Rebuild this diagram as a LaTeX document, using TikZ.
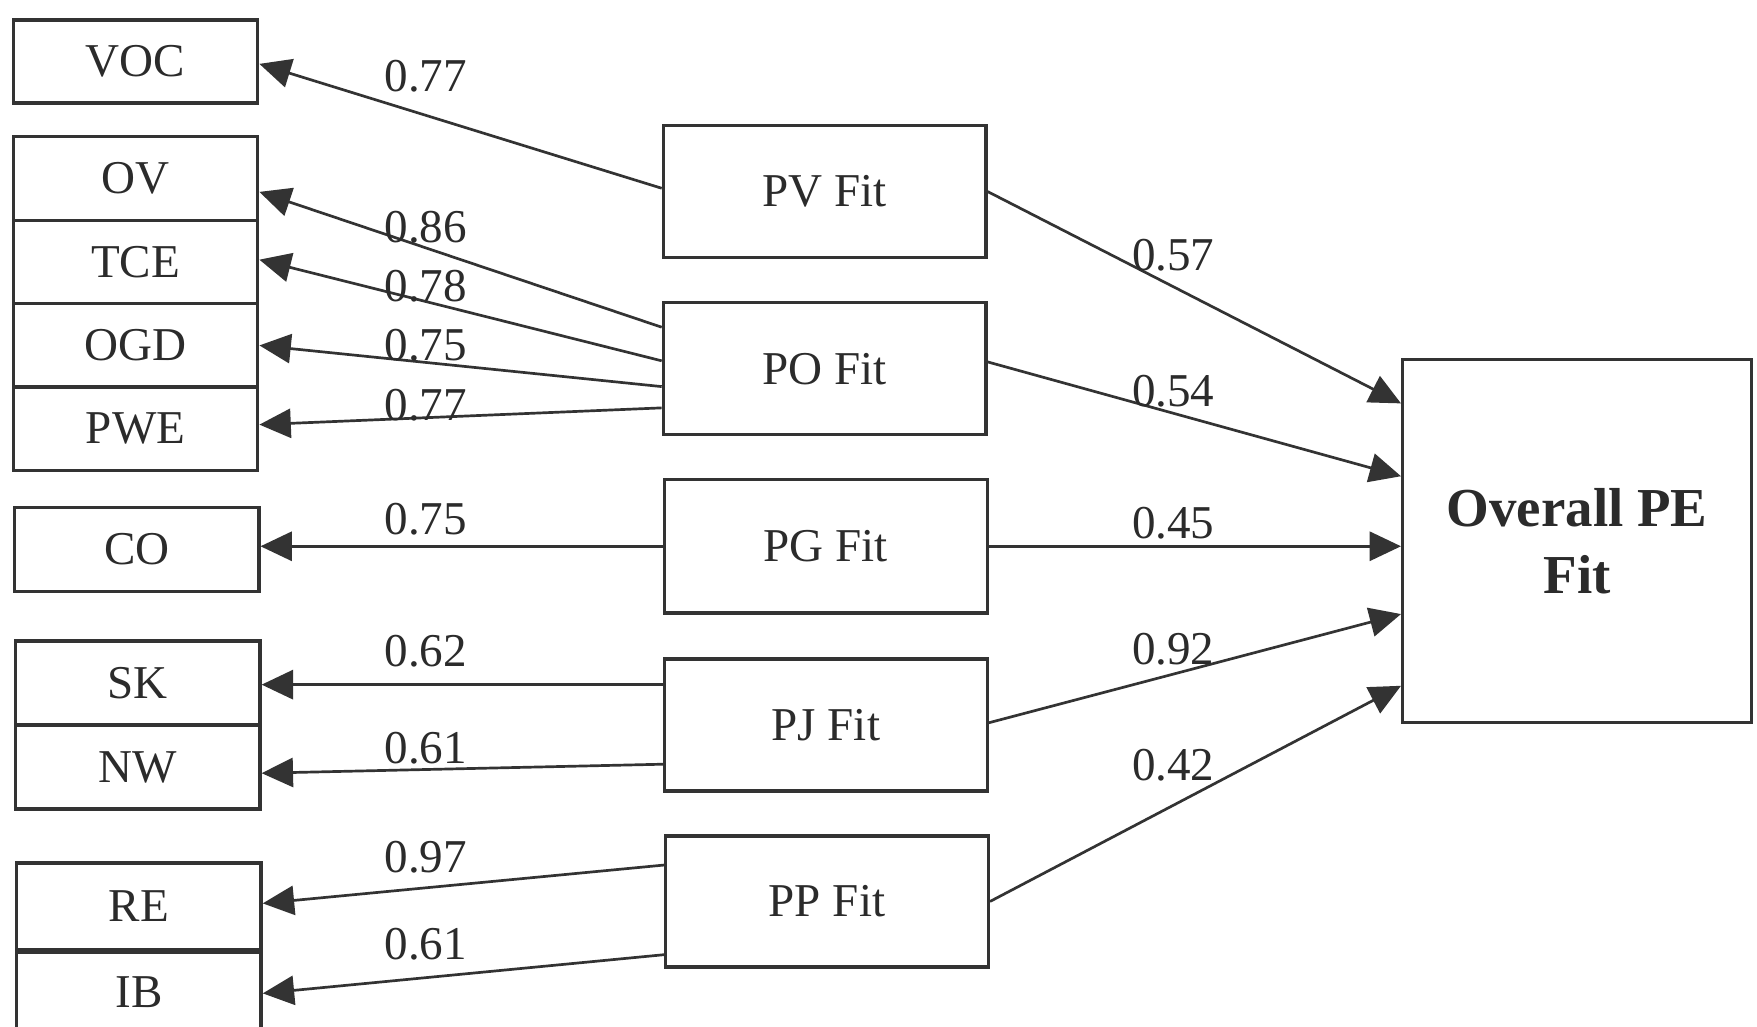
\documentclass[tikz,border=0pt]{standalone}
\usepackage{fontspec}
\setmainfont{Liberation Serif}
\usetikzlibrary{arrows.meta}
\definecolor{lc}{HTML}{333333}
\definecolor{tc}{HTML}{2B2B2B}
\tikzset{
  box/.style={draw=lc, line width=1.5pt, rectangle, inner sep=0pt, text=tc,
    font=\fontsize{21}{24}\selectfont},
  arr/.style={draw=lc, line width=1.2pt, -{Triangle[length=14pt,width=13pt]}},
  lab/.style={text=tc, inner sep=0pt, font=\fontsize{21}{24}\selectfont},
}
\begin{document}
\begin{tikzpicture}[x=0.5pt,y=-0.5pt]
\fill[white] (0,0) rectangle (1568,916);
\clip (0,0) rectangle (1568,916);
% left column
\node[box, minimum width=109pt, minimum height=37pt] (voc) at (121,55) {VOC};
\node[box, minimum width=109pt, minimum height=37.25pt] (ov) at (121,159.25) {OV};
\node[box, minimum width=109pt, minimum height=37.25pt] (tce) at (121,233.75) {TCE};
\node[box, minimum width=109pt, minimum height=37.25pt] (ogd) at (121,308.25) {OGD};
\node[box, minimum width=109pt, minimum height=37.25pt] (pwe) at (121,382.75) {PWE};
\node[box, minimum width=109pt, minimum height=37.5pt] (co) at (122,490.5) {CO};
\node[box, minimum width=109pt, minimum height=37.5pt] (sk) at (123,609.5) {SK};
\node[box, minimum width=109pt, minimum height=37.5pt] (nw) at (123,684.5) {NW};
\node[box, minimum width=109pt, minimum height=38.75pt] (re) at (124,809) {RE};
\node[box, minimum width=109pt, minimum height=35pt] (ib) at (124,885) {IB};
% middle column
\node[box, minimum width=144pt, minimum height=59pt] (pv) at (736,171) {PV Fit};
\node[box, minimum width=144pt, minimum height=59pt] (po) at (736,329) {PO Fit};
\node[box, minimum width=144pt, minimum height=59.5pt] (pg) at (737,487.5) {PG Fit};
\node[box, minimum width=144pt, minimum height=59pt] (pj) at (737,647) {PJ Fit};
\node[box, minimum width=144pt, minimum height=58.5pt] (pp) at (738,804.5) {PP Fit};
% right
\node[box, minimum width=155.6pt, minimum height=162pt, align=center,
  font=\fontsize{24.5}{29.8}\selectfont\bfseries] (pe) at (1407.4,483) {Overall PE\\Fit};
% connectors left
\draw[arr] ([yshift=1.5pt]pv.west) -- ([yshift=-1pt]voc.east);
\draw[arr] ([yshift=18.5pt]po.west) -- ([yshift=-6pt]ov.east);
\draw[arr] ([yshift=3.5pt]po.west) -- ([yshift=1pt]tce.east);
\draw[arr] ([yshift=-8pt]po.west) -- (ogd.east);
\draw[arr] ([yshift=-17.5pt]po.west) -- ([yshift=1.9pt]pwe.east);
\draw[arr] (pg.west) -- (pg.west -| co.east);
\draw[arr] ([yshift=18pt]pj.west) -- ([yshift=18pt]pj.west -| sk.east);
\draw[arr] ([yshift=-17.5pt]pj.west) -- ([yshift=-2.75pt]nw.east);
\draw[arr] ([yshift=16.25pt]pp.west) -- ([yshift=1.4pt]re.east);
\draw[arr] ([yshift=-23.75pt]pp.west) -- ([yshift=-0.75pt]ib.east);
% connectors right
\draw[arr] (pv.east) -- ([yshift=61.5pt]pe.west);
\draw[arr] ([yshift=3pt]po.east) -- ([yshift=29pt]pe.west);
\draw[arr] (pg.east) -- (pg.east -| pe.west);
\draw[arr] ([yshift=1pt]pj.east) -- ([yshift=-32.5pt]pe.west);
\draw[arr] (pp.east) -- ([yshift=-64.5pt]pe.west);
% labels
\node[lab] (l1) at (380,68) {0.77};
\node[lab] (l2) at (380,203) {0.86};
\node[lab] (l3) at (380,255) {0.78};
\node[lab] (l4) at (380,308) {0.75};
\node[lab] (l5) at (380,362) {0.77};
\node[lab] (l6) at (380,463) {0.75};
\node[lab] (l7) at (380,581) {0.62};
\node[lab] (l8) at (380,668) {0.61};
\node[lab] (l9) at (380,765) {0.97};
\node[lab] (l10) at (380,843) {0.61};
\node[lab] (r1) at (1047,228) {0.57};
\node[lab] (r2) at (1047,349) {0.54};
\node[lab] (r3) at (1047,467) {0.45};
\node[lab] (r4) at (1047,579) {0.92};
\node[lab] (r5) at (1047,683) {0.42};
\end{tikzpicture}
\end{document}
